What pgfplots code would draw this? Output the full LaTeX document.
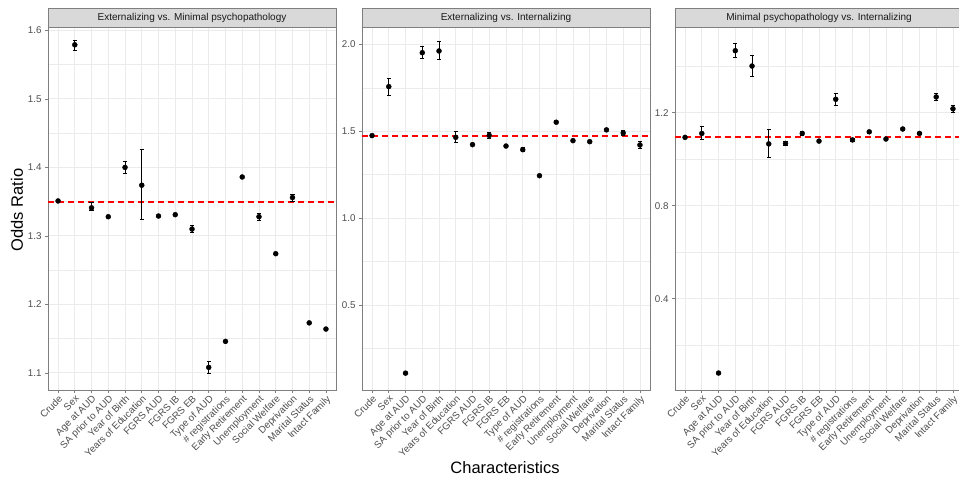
\documentclass[border=0pt]{standalone}
\usepackage{pgfplots}
\pgfplotsset{compat=1.18}
\usepackage{fontspec}
\setmainfont{Liberation Sans}
\definecolor{gridc}{HTML}{EBEBEB}
\definecolor{tickc}{HTML}{4D4D4D}
\definecolor{framec}{HTML}{7F7F7F}
\definecolor{stripc}{HTML}{D9D9D9}

\pgfplotsset{
  panel/.style={
    scale only axis, width=288pt, height=363pt, anchor=south west,
    xmin=-0.6, xmax=16.6,
    xtick={0,1,2,3,4,5,6,7,8,9,10,11,12,13,14,15,16},
    xticklabels={Crude,Sex,Age at AUD,SA prior to AUD,Year of Birth,Years of Education,FGRS AUD,FGRS IB,FGRS EB,Type of AUD,{\# registrations},Early Retirement,Unemployment,Social Welfare,Deprivation,Marital Status,Intact Family},
    x tick label style={rotate=45, anchor=north east, inner sep=1pt, font=\fontsize{9.8}{10}\selectfont, text=tickc},
    y tick label style={font=\fontsize{9.8}{10}\selectfont, text=tickc},
    /pgf/number format/assume math mode=true,
    /pgf/number format/fixed,
    /pgf/number format/fixed zerofill,
    /pgf/number format/precision=1,
    tick align=outside, xtick pos=bottom, ytick pos=left,
    major tick length=3pt, minor tick length=0pt,
    tick style={framec, line width=0.6pt},
    axis line style={framec, line width=0.8pt},
    xmajorgrids, ymajorgrids, yminorgrids,
    major grid style={gridc, line width=0.9pt},
    minor grid style={gridc, line width=0.5pt},
  },
}

\pgfplotstableread{
x y ep em
0 1.351 0 0
1 1.579 0.006 0.008
2 1.341 0.008 0.004
3 1.328 0 0
4 1.400 0.009 0.009
5 1.374 0.052 0.050
6 1.329 0 0
7 1.331 0 0
8 1.310 0.005 0.005
9 1.108 0.009 0.009
10 1.146 0 0
11 1.386 0 0
12 1.328 0.005 0.005
13 1.274 0 0
14 1.356 0.005 0.005
15 1.173 0 0
16 1.164 0 0
}\tabA

\pgfplotstableread{
x y ep em
0 1.475 0 0
1 1.757 0.049 0.052
2 0.108 0 0
3 1.952 0.035 0.035
4 1.962 0.052 0.051
5 1.465 0.031 0.030
6 1.423 0 0
7 1.476 0.015 0.015
8 1.415 0 0
9 1.394 0.012 0.012
10 1.244 0 0
11 1.552 0.008 0.008
12 1.446 0 0
13 1.440 0.006 0.006
14 1.508 0 0
15 1.490 0.012 0.012
16 1.421 0.020 0.020
}\tabB

\pgfplotstableread{
x y ep em
0 1.094 0 0
1 1.111 0.031 0.028
2 0.080 0 0
3 1.467 0.030 0.029
4 1.401 0.044 0.046
5 1.066 0.064 0.058
6 1.068 0.008 0.008
7 1.111 0.010 0.010
8 1.078 0.006 0.006
9 1.258 0.024 0.026
10 1.083 0.007 0.007
11 1.118 0.005 0.005
12 1.087 0 0
13 1.130 0.008 0.008
14 1.111 0.006 0.006
15 1.268 0.013 0.013
16 1.217 0.014 0.014
}\tabC

\newcommand{\ptsplot}[1]{%
\addplot[only marks, mark=*, mark size=2.5pt, color=black,
    error bars/.cd, y dir=both, y explicit,
    error bar style={line width=0.9pt, color=black},
    error mark options={rotate=90, mark size=2.2pt, line width=0.9pt, color=black}]
  table[x=x, y=y, y error plus=ep, y error minus=em] {#1};}

\begin{document}
\begin{tikzpicture}
\useasboundingbox (0pt,0pt) rectangle (959pt,481pt);

\begin{axis}[panel, at={(48pt,91pt)}, ymin=1.075, ymax=1.605,
  ytick={1.1,1.2,1.3,1.4,1.5,1.6}, minor ytick={1.15,1.25,1.35,1.45,1.55}]
\addplot[red, mark=none, line width=2pt, dash pattern=on 6pt off 4pt] table[x=x, y=y] {
x y
-0.6 1.35
16.6 1.35
};
\ptsplot{\tabA}
\end{axis}

\begin{axis}[panel, at={(362pt,91pt)}, ymin=0.011, ymax=2.1,
  ytick={0.5,1.0,1.5,2.0}, minor ytick={0.25,0.75,1.25,1.75}]
\addplot[red, mark=none, line width=2pt, dash pattern=on 6pt off 4pt] table[x=x, y=y] {
x y
-0.6 1.475
16.6 1.475
};
\ptsplot{\tabB}
\end{axis}

\begin{axis}[panel, at={(675pt,91pt)}, ymin=0.007, ymax=1.569,
  ytick={0.0,0.4,0.8,1.2}, minor ytick={0.2,0.6,1.0,1.4}]
\addplot[red, mark=none, line width=2pt, dash pattern=on 6pt off 4pt] table[x=x, y=y] {
x y
-0.6 1.094
16.6 1.094
};
\ptsplot{\tabC}
\end{axis}

\draw[framec, line width=0.8pt, fill=stripc] (48pt,454pt) rectangle (336pt,473pt);
\draw[framec, line width=0.8pt, fill=stripc] (362pt,454pt) rectangle (650pt,473pt);
\draw[framec, line width=0.8pt, fill=stripc] (675pt,454pt) rectangle (963pt,473pt);
\node[font=\fontsize{10}{12}\selectfont, text=black!90] at (192pt,463.5pt) {Externalizing vs. Minimal psychopathology};
\node[font=\fontsize{10}{12}\selectfont, text=black!90] at (506pt,463.5pt) {Externalizing vs. Internalizing};
\node[font=\fontsize{10}{12}\selectfont, text=black!90] at (819pt,463.5pt) {Minimal psychopathology vs. Internalizing};

\node[rotate=90, font=\fontsize{16.5}{18}\selectfont] at (17pt,271pt) {Odds Ratio};
\node[font=\fontsize{16.5}{18}\selectfont] at (505pt,13pt) {Characteristics};
\end{tikzpicture}
\end{document}
